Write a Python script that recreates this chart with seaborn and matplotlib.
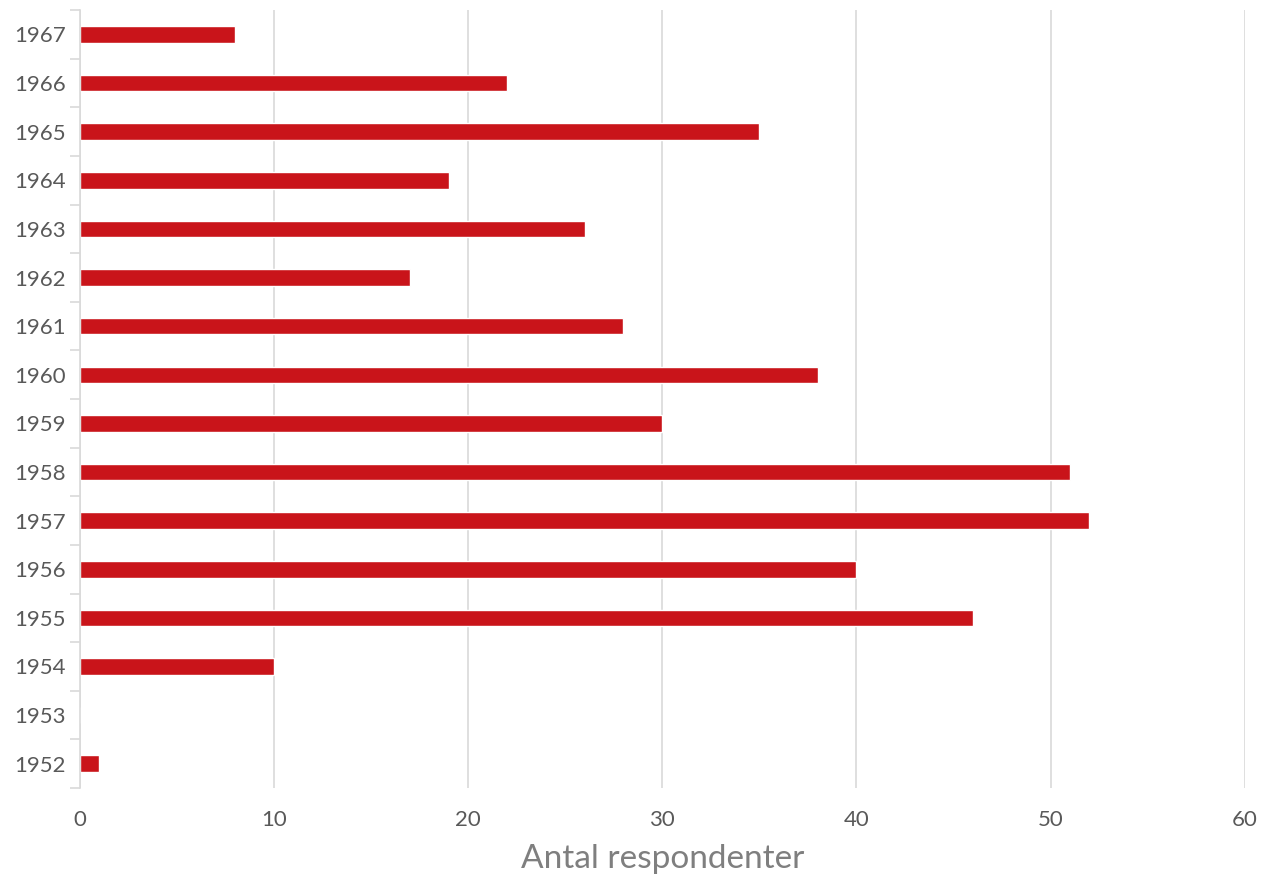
import pandas as pd
import numpy as np
import matplotlib.pyplot as plt
import seaborn as sns
from matplotlib.ticker import FixedLocator

# Data
years = ['1967', '1966', '1965', '1964', '1963', '1962', '1961', '1960',
         '1959', '1958', '1957', '1956', '1955', '1954', '1953', '1952']
counts = [8, 22, 35, 19, 26, 17, 28, 38, 30, 51, 52, 40, 46, 10, 0, 1]

sns.set_theme(style="white")
plt.rcParams['font.family'] = ['Lato', 'DejaVu Sans']

df = pd.DataFrame({'Ar': years, 'Antal': counts})

fig = plt.figure(figsize=(12.7, 8.8), dpi=100)
ax = fig.add_axes([0.063, 0.1045, 0.917, 0.884])

sns.barplot(data=df, x='Antal', y='Ar', order=years, color='#C9141A',
            width=0.34, saturation=1, ax=ax)

ax.set_xlim(0, 60)
ax.set_xticks(range(0, 61, 10))
ax.grid(axis='x', color='#d9d9d9', linewidth=1.2)
ax.set_axisbelow(True)

for s in ['top', 'right', 'bottom']:
    ax.spines[s].set_visible(False)
ax.spines['left'].set_color('#d9d9d9')
ax.spines['left'].set_linewidth(1.2)

# category separators as minor ticks on the y axis
ax.yaxis.set_minor_locator(FixedLocator(np.arange(-0.5, len(years), 1.0)))
ax.tick_params(axis='y', which='minor', length=7, color='#d9d9d9', width=1.2, left=True)
ax.tick_params(axis='y', which='major', length=0, pad=10, labelsize=16, labelcolor='#595959')
ax.tick_params(axis='x', which='major', length=0, pad=16, labelsize=16, labelcolor='#595959')

ax.set_ylabel('')
ax.set_xlabel('Antal respondenter', fontsize=24, color='#7f7f7f', labelpad=10)

plt.savefig('out.png', dpi=100)
